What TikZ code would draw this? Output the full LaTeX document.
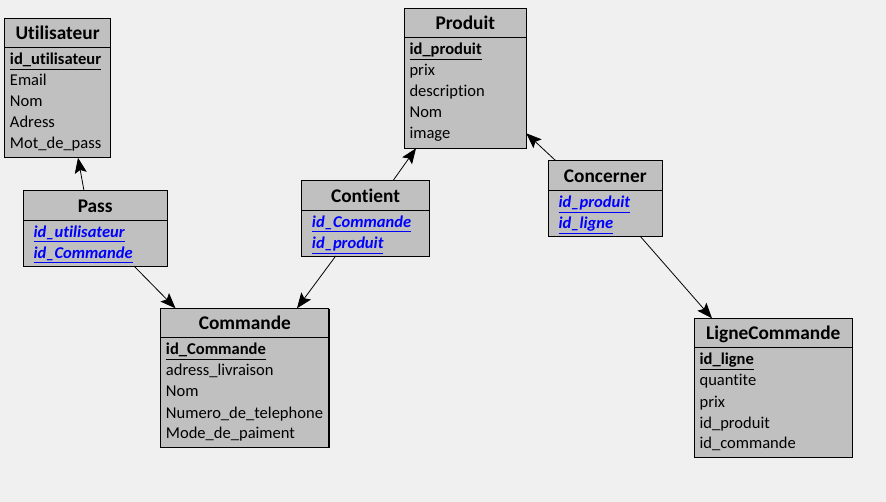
\documentclass[tikz,border=0pt]{standalone}
\usepackage{fontspec}
\setmainfont{Carlito}[Ligatures=CommonOff]
\usetikzlibrary{arrows.meta,calc,shadows}
\definecolor{fond}{RGB}{240,240,240}
\definecolor{gristable}{RGB}{192,192,192}
\definecolor{bleulien}{RGB}{0,0,255}
\tikzset{
  entite/.style={draw, line width=0.75pt, fill=gristable, anchor=north west,
    inner sep=0pt, outer sep=0pt,
    drop shadow={shadow xshift=0.5pt, shadow yshift=-0.5pt, fill=black, opacity=1}},
  titre/.style={anchor=base, inner sep=0pt, font=\fontsize{14.5}{17}\selectfont\bfseries},
  attr/.style={anchor=base west, inner sep=0pt, font=\fontsize{12.4}{15}\selectfont},
  cle/.style={attr, font=\fontsize{12.4}{15}\selectfont\bfseries},
  lien/.style={attr, text=bleulien, font=\fontsize{12.4}{15}\selectfont\bfseries\itshape},
  fk/.style={-{Stealth[length=11.5pt,width=9pt,inset=2.2pt]}, line width=0.6pt}
}
\begin{document}
\begin{tikzpicture}[x=0.75pt,y=-0.75pt]
\fill[fond] (0,0) rectangle (886,502);
\useasboundingbox (0,0) rectangle (886,502);

% Utilisateur
\node[entite, minimum width=79.4pt, minimum height=104.6pt] (utilisateur) at (4.7,18.3) {};
\draw (utilisateur.north west) ++(0,29.4) -- ++(105.8,0);
\node[titre] (utilisateur-t) at (57.6,40) {Utilisateur};
\node[cle] (u1) at (9.7,65) {\underline{id\_utilisateur}};
\node[attr] (u2) at (9.7,86) {Email};
\node[attr] (u3) at (9.7,107) {Nom};
\node[attr] (u4) at (9.7,128) {Adress};
\node[attr] (u5) at (9.7,149) {Mot\_de\_pass};

% Produit
\node[entite, minimum width=91.5pt, minimum height=105pt] (produit) at (404.3,8.3) {};
\draw (produit.north west) ++(0,29.4) -- ++(122,0);
\node[titre] (produit-t) at (465.3,30) {Produit};
\node[cle] (p1) at (409.3,55) {\underline{id\_produit}};
\node[attr] (p2) at (409.3,76) {prix};
\node[attr] (p3) at (409.3,97) {description};
\node[attr] (p4) at (409.3,118) {Nom};
\node[attr] (p5) at (409.3,139) {image};

% Pass
\node[entite, minimum width=107.8pt, minimum height=56.5pt] (pass) at (23.3,190.7) {};
\draw (pass.north west) ++(0,29.4) -- ++(143.7,0);
\node[titre] (pass-t) at (95.2,212.4) {Pass};
\node[lien] (pa1) at (33.3,237.4) {\underline{id\_utilisateur}};
\node[lien] (pa2) at (33.3,258.4) {\underline{id\_Commande}};

% Contient
\node[entite, minimum width=95.7pt, minimum height=56.5pt] (contient) at (301.7,180.7) {};
\draw (contient.north west) ++(0,29.4) -- ++(127.6,0);
\node[titre] (contient-t) at (365.5,202.4) {Contient};
\node[lien] (ct1) at (311.7,227.4) {\underline{id\_Commande}};
\node[lien] (ct2) at (311.7,248.4) {\underline{id\_produit}};

% Concerner
\node[entite, minimum width=85.5pt, minimum height=56.5pt] (concerner) at (548.3,160.7) {};
\draw (concerner.north west) ++(0,29.4) -- ++(114,0);
\node[titre] (concerner-t) at (605.3,182.4) {Concerner};
\node[lien] (cc1) at (558.3,207.4) {\underline{id\_produit}};
\node[lien] (cc2) at (558.3,228.4) {\underline{id\_ligne}};

% Commande
\node[entite, minimum width=126.2pt, minimum height=104.6pt] (commande) at (160.7,308.3) {};
\draw (commande.north west) ++(0,29.4) -- ++(168.3,0);
\node[titre] (commande-t) at (244.9,330) {Commande};
\node[cle] (c1) at (165.7,355) {\underline{id\_Commande}};
\node[attr] (c2) at (165.7,376) {adress\_livraison};
\node[attr] (c3) at (165.7,397) {Nom};
\node[attr] (c4) at (165.7,418) {Numero\_de\_telephone};
\node[attr] (c5) at (165.7,439) {Mode\_de\_paiment};

% LigneCommande
\node[entite, minimum width=118.5pt, minimum height=104.6pt] (lignecommande) at (694.3,318.3) {};
\draw (lignecommande.north west) ++(0,29.4) -- ++(158,0);
\node[titre] (lignecommande-t) at (773.3,340) {LigneCommande};
\node[cle] (l1) at (699.3,365) {\underline{id\_ligne}};
\node[attr] (l2) at (699.3,386) {quantite};
\node[attr] (l3) at (699.3,407) {prix};
\node[attr] (l4) at (699.3,428) {id\_produit};
\node[attr] (l5) at (699.3,449) {id\_commande};

% liens
\draw[fk] ($(pass.north west)+(60.7,0)$) -- ($(utilisateur.south west)+(73.3,0)$);
\draw[fk] ($(pass.south west)+(110.7,0)$) -- ($(commande.north west)+(14.8,0)$);
\draw[fk] ($(contient.north west)+(91.3,0)$) -- ($(produit.south west)+(11.7,0)$);
\draw[fk] ($(contient.south west)+(34,0)$) -- ($(commande.north west)+(136.3,0)$);
\draw[fk] ($(concerner.north west)+(7.4,0)$) -- ($(produit.south east)+(0,-15)$);
\draw[fk] ($(concerner.south west)+(91.7,0)$) -- ($(lignecommande.north west)+(17.7,0)$);
\end{tikzpicture}
\end{document}
